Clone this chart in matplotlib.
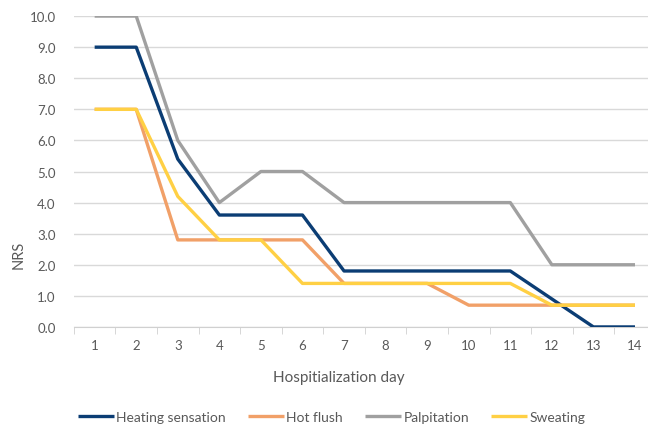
import numpy as np
import matplotlib.pyplot as plt

plt.rcParams['font.family'] = ['Lato', 'DejaVu Sans']

days = list(range(1, 15))
heating = [9.0, 9.0, 5.4, 3.6, 3.6, 3.6, 1.8, 1.8, 1.8, 1.8, 1.8, 0.9, 0.0, 0.0]
hot_flush = [7.0, 7.0, 2.8, 2.8, 2.8, 2.8, 1.4, 1.4, 1.4, 0.7, 0.7, 0.7, 0.7, 0.7]
palpitation = [10.0, 10.0, 6.0, 4.0, 5.0, 5.0, 4.0, 4.0, 4.0, 4.0, 4.0, 2.0, 2.0, 2.0]
sweating = [7.0, 7.0, 4.2, 2.8, 2.8, 1.4, 1.4, 1.4, 1.4, 1.4, 1.4, 0.7, 0.7, 0.7]

series = [
    ("Heating sensation", heating, "#0B3D74"),
    ("Hot flush", hot_flush, "#F1A068"),
    ("Palpitation", palpitation, "#A0A0A0"),
    ("Sweating", sweating, "#FFD044"),
]

fig = plt.figure(figsize=(6.48, 4.27), dpi=100)
ax = fig.add_axes([0.114, 0.232, 0.898, 0.728])

for name, vals, col in series:
    ax.plot(days, vals, color=col, lw=2.4, label=name,
            solid_joinstyle='round', solid_capstyle='butt', zorder=3)

ax.set_xlim(0.5, 14.5)
ax.set_ylim(0, 10)
ax.set_yticks(np.arange(0, 10.1, 1.0))
ax.set_yticklabels([f"{v:.1f}" for v in np.arange(0, 10.1, 1.0)])
ax.set_xticks(days)
ax.set_xticks(np.arange(0.5, 14.6, 1.0), minor=True)
ax.grid(axis='y', color='#D9D9D9', lw=1)
ax.set_axisbelow(True)

for s in ['top', 'right', 'left']:
    ax.spines[s].set_visible(False)
ax.spines['bottom'].set_color('#D0D0D0')
ax.tick_params(axis='y', length=0, labelsize=9.5, labelcolor='#595959', pad=13)
ax.tick_params(axis='x', which='major', length=0, labelsize=9.5, labelcolor='#595959', pad=9)
ax.tick_params(axis='x', which='minor', length=5, color='#D0D0D0')

fig.text(0.029, 0.402, "NRS", rotation=90, fontsize=10.5, color='#595959', va='center', ha='center')
fig.text(0.523, 0.115, "Hospitialization day", fontsize=11, color='#595959', ha='center', va='center')

leg = fig.legend(loc='center', bbox_to_anchor=(0.512, 0.022), ncol=4, frameon=False,
                 fontsize=10, handlelength=2.6, handletextpad=0.15, columnspacing=1.6)
for t in leg.get_texts():
    t.set_color('#595959')

fig.savefig("out.png", dpi=100)
